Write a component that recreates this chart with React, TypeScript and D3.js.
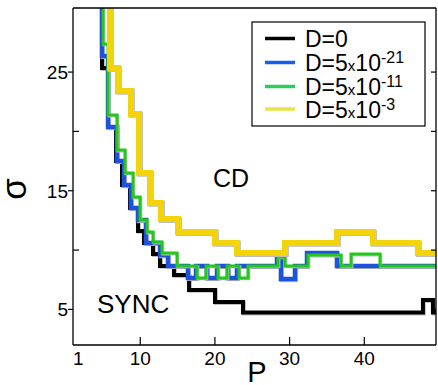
import React from 'react';
import * as d3 from 'd3';

// Threshold curves sigma(P): each series is a staircase, value S[i] holds from P[i] to P[i+1]
const blackP = [4.88, 5.69, 6.76, 7.56, 8.63, 9.7, 10.5, 11.71, 12.65, 14.52, 16.53, 20.01, 23.76, 47.85, 49.19];
const blackS = [25.34, 20.37, 17.51, 15.48, 13.55, 11.61, 10.6, 9.67, 8.66, 7.9, 6.64, 5.62, 4.74, 5.79, 4.74];

const blueP = [4.88, 5.69, 6.89, 7.83, 8.76, 9.7, 10.77, 12.65, 13.72, 16.39, 17.47, 18.94, 20.28, 21.75, 22.95, 28.31, 28.84, 30.72, 32.33, 36.34];
const blueS = [26.36, 20.37, 17.51, 15.48, 13.55, 12.53, 10.6, 9.58, 8.66, 7.65, 8.66, 7.65, 8.66, 7.65, 8.66, 9.42, 7.56, 8.66, 9.75, 8.66];

const greenP = [5.02, 5.69, 6.89, 7.96, 9.03, 9.97, 10.91, 11.71, 12.91, 14.92, 17.6, 18.8, 20.41, 21.62, 23.22, 24.43, 28.44, 29.38, 32.46, 36.88, 38.22, 42.1];
const greenS = [27.37, 21.38, 18.43, 16.5, 14.47, 12.53, 11.52, 10.68, 9.75, 8.66, 7.65, 8.66, 7.65, 8.66, 7.65, 8.66, 9.42, 8.66, 9.58, 8.66, 9.67, 8.66];

const yellowP = [5.95, 7.02, 8.76, 9.84, 11.31, 12.78, 15.06, 20.01, 22.95, 29.38, 36.34, 41.16, 47.18];
const yellowS = [25.34, 23.41, 21.47, 16.5, 13.97, 12.62, 11.52, 10.6, 9.75, 10.6, 11.52, 10.6, 9.75];

const xTicks = [1, 10, 20, 30, 40];
const yTicksMajor = [5, 15, 25];
const yTicksMinor = [10, 20];

const legendMantissa = ['', '5', '5', '5'];
const legendExponent = ['', '-21', '-11', '-3'];

const FONT = "'Liberation Sans', Arial, Helvetica, sans-serif";

const X0 = 73, X1 = 436, Y0 = 8, Y1 = 345;
const xMax = 49.6;
const yMax = 30.4;

const x = d3.scaleLinear().domain([1, xMax]).range([X0, X1]);
const y = d3.scaleLinear().domain([2, yMax]).range([Y1, Y0]);

function stepPath(ps: number[], ss: number[]): string {
  const pts: [number, number][] = [[ps[0], yMax + 2]];
  ps.forEach((p, i) => pts.push([p, ss[i]]));
  pts.push([xMax + 0.5, ss[ss.length - 1]]);
  return (
    d3
      .line<[number, number]>()
      .x((d) => x(d[0]))
      .y((d) => y(d[1]))
      .curve(d3.curveStepAfter)(pts) || ''
  );
}

const series = [
  { P: blackP, S: blackS, color: '#000000', width: 4, legend: '#000000' },
  { P: blueP, S: blueS, color: '#1f52dc', width: 4.5, legend: '#1a5ef0' },
  { P: greenP, S: greenS, color: '#22c81a', width: 3, legend: '#2ecc5a' },
  { P: yellowP, S: yellowS, color: '#f3d40a', width: 6, legend: '#e8e446' },
];

export default function App() {
  const legendX = 252, legendY = 22, legendW = 173, legendH = 104;
  const rowY = [38.5, 62.5, 86.5, 109];
  return (
    <svg
      width={438}
      height={385}
      style={{ position: 'absolute', left: 0, top: 0, background: '#fff' }}
      fontFamily={FONT}
    >
      <defs>
        <clipPath id="plot-area">
          <rect x={X0} y={Y0} width={X1 - X0} height={Y1 - Y0} />
        </clipPath>
      </defs>
      <rect x={0} y={0} width={438} height={385} fill="#fff" />

      <g clipPath="url(#plot-area)" fill="none" strokeLinejoin="miter" strokeLinecap="square">
        {series.map((s, i) => {
          const d = stepPath(s.P, s.S);
          return (
            <g key={i}>
              <path d={d} stroke="#bdbdbd" strokeWidth={s.width} transform="translate(0.9,0.9)" />
              <path d={d} stroke={s.color} strokeWidth={s.width} />
            </g>
          );
        })}
      </g>

      {/* frame */}
      <g stroke="#000" strokeWidth={1.3} fill="none">
        <line x1={X0} y1={Y0} x2={X0} y2={Y1} />
        <line x1={X0} y1={Y1} x2={X1} y2={Y1} />
        <line x1={X1} y1={Y0} x2={X1} y2={Y1} />
        <line x1={X0} y1={Y0} x2={X1} y2={Y0} />
      </g>

      {/* x ticks */}
      <g stroke="#000" strokeWidth={1.2}>
        {xTicks.slice(1).map((t) => (
          <line key={t} x1={x(t)} x2={x(t)} y1={Y1} y2={Y1 - 8} />
        ))}
      </g>
      <g fontSize={19} fill="#000">
        {xTicks.map((t, i) => (
          <text key={t} x={x(t)} y={365} textAnchor={i === 0 ? 'start' : 'middle'}>
            {t}
          </text>
        ))}
      </g>

      {/* y ticks */}
      <g stroke="#000" strokeWidth={1.2}>
        {yTicksMajor.map((t) => (
          <line key={t} x1={X0 - 5} x2={X0} y1={y(t)} y2={y(t)} />
        ))}
        {yTicksMinor.map((t) => (
          <line key={t} x1={X0} x2={X0 + 6} y1={y(t)} y2={y(t)} />
        ))}
        {[...yTicksMajor, ...yTicksMinor].map((t) => (
          <line key={'r' + t} x1={X1 - 5} x2={X1} y1={y(t)} y2={y(t)} />
        ))}
      </g>
      <g fontSize={19} fill="#000">
        {yTicksMajor.map((t) => (
          <text key={t} x={X0 - 5} y={y(t) + 7} textAnchor="end">
            {t}
          </text>
        ))}
      </g>

      {/* axis titles */}
      <text x={257} y={382} fontSize={29} textAnchor="middle">P</text>
      <text x={26} y={189} fontSize={35} textAnchor="middle" transform="rotate(-90 26 189)">σ</text>

      {/* region labels */}
      <text x={213} y={187} fontSize={25}>CD</text>
      <text x={97} y={313} fontSize={26}>SYNC</text>

      {/* legend */}
      <rect x={legendX} y={legendY} width={legendW} height={legendH} fill="#fff" stroke="#000" strokeWidth={1.2} />
      {series.map((s, i) => (
        <g key={i}>
          <line x1={265} x2={295} y1={rowY[i]} y2={rowY[i]} stroke={s.legend} strokeWidth={3.5} />
          <text x={305} y={rowY[i] + 8.5} fontSize={23} fill="#000">
            {legendMantissa[i] === '' ? (
              'D=0'
            ) : (
              <>
                {'D=' + legendMantissa[i]}
                <tspan fontSize={15}>x</tspan>
                <tspan>10</tspan>
                <tspan fontSize={16} dy={-8}>{legendExponent[i]}</tspan>
              </>
            )}
          </text>
        </g>
      ))}
    </svg>
  );
}
